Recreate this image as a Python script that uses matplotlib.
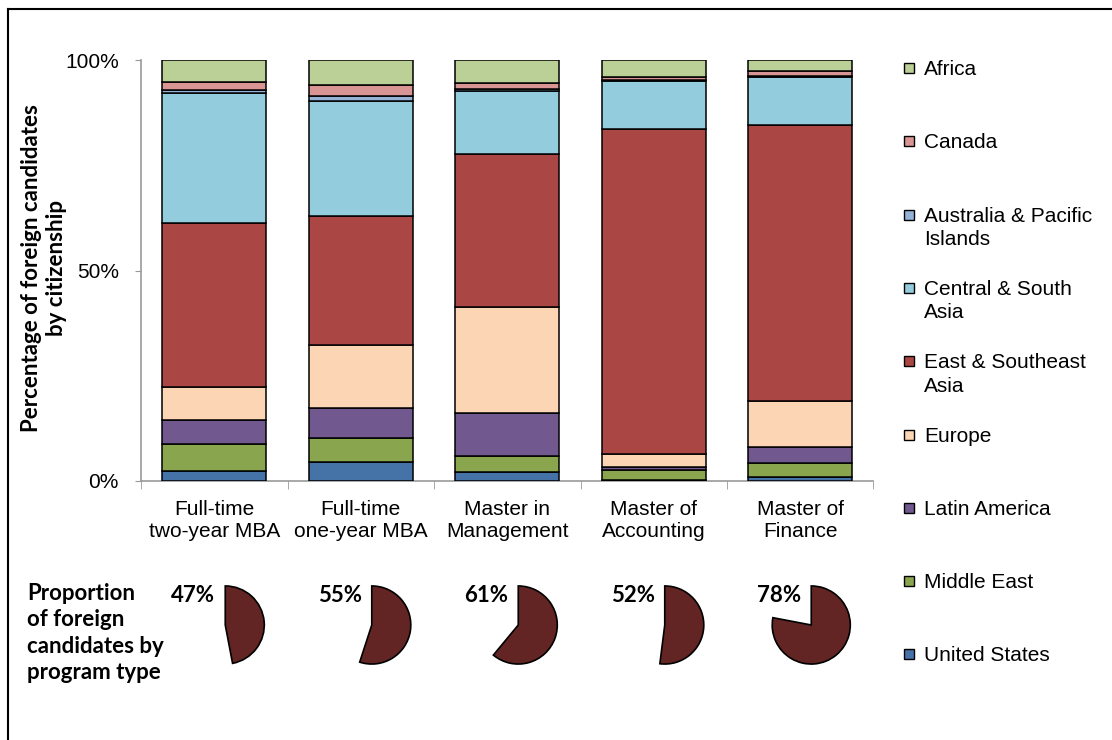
import numpy as np
import matplotlib.pyplot as plt
from matplotlib.lines import Line2D
from matplotlib.patches import Rectangle

programs = ['Full-time\ntwo-year MBA', 'Full-time\none-year MBA', 'Master in\nManagement',
            'Master of\nAccounting', 'Master of\nFinance']

# share of foreign candidates by citizenship (%), stacked bottom to top
regions = ['United States', 'Middle East', 'Latin America', 'Europe', 'East & Southeast\nAsia',
           'Central & South\nAsia', 'Australia & Pacific\nIslands', 'Canada', 'Africa']
united_states = [2.3, 4.5, 2.1, 0.2, 0.9]
middle_east = [6.5, 5.8, 3.8, 2.4, 3.4]
latin_america = [5.7, 7.1, 10.2, 0.7, 3.8]
europe = [7.9, 14.9, 25.2, 3.1, 10.9]
east_se_asia = [39.0, 30.6, 36.3, 77.1, 65.6]
central_s_asia = [30.7, 27.4, 15.0, 11.5, 11.4]
australia_pacific = [0.8, 1.1, 0.5, 0.3, 0.3]
canada = [1.8, 2.7, 1.4, 0.7, 1.2]
africa = [5.3, 5.9, 5.5, 4.0, 2.5]

# proportion of foreign candidates by program type (%)
foreign_share = [47, 55, 61, 52, 78]

colors = ['#4572A7', '#89A54E', '#71588F', '#FCD5B5', '#AA4643',
          '#93CDDD', '#95B3D7', '#D99594', '#BBD097']
pie_color = '#632523'

series = [united_states, middle_east, latin_america, europe, east_se_asia,
          central_s_asia, australia_pacific, canada, africa]

plt.rcParams['font.family'] = ['Liberation Sans', 'DejaVu Sans']
bold_font = ['Lato', 'DejaVu Sans']

W, H = 1112, 740
fig = plt.figure(figsize=(W / 100, H / 100), dpi=100)

ax = fig.add_axes([141 / W, 1 - 481 / H, 732.5 / W, 421 / H])
x = np.arange(len(programs))
bottom = np.zeros(len(programs))
for vals, col, name in zip(series, colors, regions):
    ax.bar(x, vals, bottom=bottom, width=0.71, color=col, edgecolor='black',
           linewidth=1.1, label=name, zorder=3)
    bottom += np.array(vals)

ax.set_xlim(-0.5, len(programs) - 0.5)
ax.set_ylim(0, 100)
ax.set_yticks([0, 50, 100])
ax.set_yticklabels(['0%', '50%', '100%'], fontsize=15)
ax.set_xticks(x)
ax.set_xticklabels(programs, fontsize=15, linespacing=1.15)
ax.set_xticks(np.arange(-0.5, len(programs)), minor=True)
ax.tick_params(axis='x', which='major', length=0, pad=14)
ax.tick_params(axis='x', which='minor', length=6, color='#999999', direction='out')
ax.tick_params(axis='y', length=4, color='#999999', pad=12)
for side in ['top', 'right']:
    ax.spines[side].set_visible(False)
for side in ['left', 'bottom']:
    ax.spines[side].set_color('#999999')
    ax.spines[side].set_linewidth(1.2)

fig.text(44 / W, 1 - 268 / H, 'Percentage of foreign candidates\nby citizenship',
         rotation=90, ha='center', va='center', fontsize=16, fontweight='bold',
         family=bold_font, linespacing=1.25)

# legend, top entry first
leg_top = 68
for i, (name, col) in enumerate(zip(regions[::-1], colors[::-1])):
    y = leg_top + i * 73.3
    fig.patches.append(Rectangle((904 / W, 1 - (y + 5) / H), 10 / W, 10 / H,
                                 transform=fig.transFigure, facecolor=col,
                                 edgecolor='black', linewidth=1.0))
    fig.text(924 / W, 1 - (y - 8) / H, name, ha='left', va='top', fontsize=15,
             linespacing=1.3)

# pies for the foreign share of each program
r = 39
for i, p in enumerate(foreign_share):
    cx = 141 + (i + 0.5) * 146.5 + 11
    cy = 625
    pax = fig.add_axes([(cx - r - 2) / W, 1 - (cy + r + 2) / H, (2 * r + 4) / W, (2 * r + 4) / H])
    wedges, _ = pax.pie([p, 100 - p], startangle=90, counterclock=False,
                        colors=[pie_color, 'none'], radius=1.0,
                        wedgeprops=dict(edgecolor='black', linewidth=1.2))
    wedges[1].set_edgecolor('none')
    pax.set_xlim(-1.05, 1.05)
    pax.set_ylim(-1.05, 1.05)
    pax.set_aspect('equal')
    pax.axis('off')
    fig.text((cx - 10) / W, 1 - 596 / H, f'{p}%', ha='right', va='center',
             fontsize=16, fontweight='bold', family=bold_font)

fig.text(27 / W, 1 - 583 / H, 'Proportion\nof foreign\ncandidates by\nprogram type',
         ha='left', va='top', fontsize=16, fontweight='bold', family=bold_font,
         linespacing=1.32)

# outer frame on left and top
fig.add_artist(Line2D([8 / W, 8 / W], [0, 1 - 9 / H], transform=fig.transFigure,
                      color='black', linewidth=1.5))
fig.add_artist(Line2D([8 / W, 1], [1 - 9 / H, 1 - 9 / H], transform=fig.transFigure,
                      color='black', linewidth=1.5))

fig.savefig('out.png', dpi=100)
